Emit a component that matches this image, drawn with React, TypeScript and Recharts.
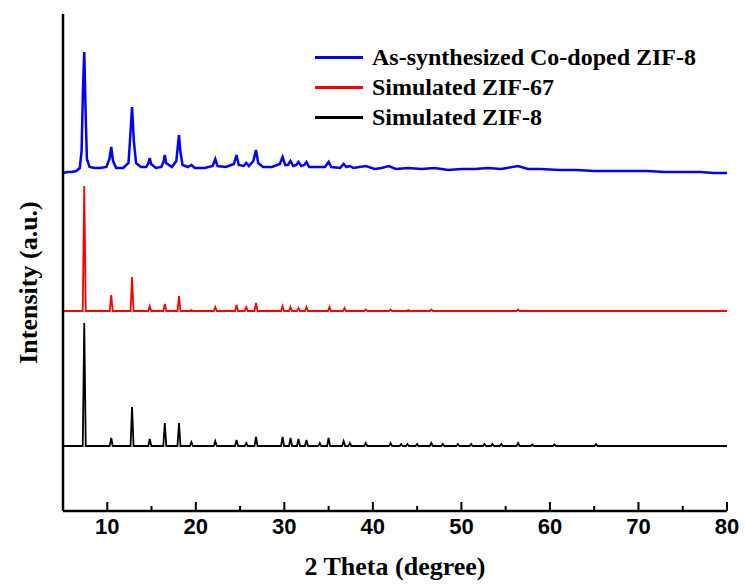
import { LineChart, Line, XAxis, YAxis, Legend } from 'recharts'

// 2-theta positions and peak heights (px above each baseline)
const BLACK_PEAKS: [number, number][] = [
  [7.4, 123], [10.45, 8], [12.8, 39], [14.8, 7], [16.5, 23], [18.1, 23], [19.5, 4],
  [22.2, 5], [24.6, 6], [25.7, 3], [26.8, 9], [29.8, 9], [30.7, 8], [31.6, 7],
  [32.5, 6], [34.0, 3], [35.0, 8], [36.7, 5], [37.4, 3], [39.2, 3], [42.0, 3],
  [43.2, 2], [43.9, 2], [45.0, 2], [46.6, 3], [47.9, 2], [49.6, 2], [51.1, 2],
  [52.6, 2], [53.5, 2], [54.5, 2], [56.4, 3], [58.0, 1.5], [60.5, 1.5], [65.2, 2],
]

const RED_PEAKS: [number, number][] = [
  [7.4, 125], [10.45, 16], [12.8, 34], [14.8, 5], [16.5, 7], [18.1, 15], [19.5, 1],
  [22.2, 4], [24.6, 6], [25.7, 4], [26.8, 8], [29.8, 5], [30.7, 4], [31.6, 3],
  [32.5, 4], [35.1, 4], [36.8, 3], [39.2, 1.5], [42.0, 1.5], [44.0, 1], [46.6, 1.5],
  [56.4, 1.5],
]

// measured pattern, noisy background included
const BLUE_POINTS: [number, number][] = [
  [5, 338], [5.5, 339], [6, 339], [6.5, 340], [6.9, 343], [7.1, 360], [7.25, 420],
  [7.4, 459], [7.55, 400], [7.7, 352], [8.0, 344], [8.6, 343], [9.2, 343], [9.9, 344],
  [10.25, 352], [10.45, 364], [10.65, 350], [11.0, 343], [11.8, 343], [12.4, 348],
  [12.6, 375], [12.8, 404], [13.0, 370], [13.25, 348], [13.8, 344], [14.4, 344],
  [14.65, 348], [14.8, 353], [14.95, 347], [15.5, 343], [16.1, 344], [16.35, 349],
  [16.5, 356], [16.65, 348], [17.3, 344], [17.8, 350], [17.95, 363], [18.1, 376],
  [18.25, 360], [18.5, 346], [19.1, 344], [19.5, 346], [19.9, 343], [21.0, 343],
  [21.9, 345], [22.2, 352], [22.45, 345], [23.4, 344], [24.3, 347], [24.6, 356],
  [24.85, 346], [25.4, 345], [25.7, 348], [26.0, 345], [26.5, 350], [26.8, 361],
  [27.05, 348], [27.6, 344], [28.6, 344], [29.5, 347], [29.8, 354], [30.1, 346],
  [30.4, 346], [30.7, 350], [31.0, 345], [31.35, 346], [31.6, 349], [31.9, 345],
  [32.25, 346], [32.5, 349], [32.8, 344], [33.5, 344], [34.6, 344], [35.0, 349],
  [35.3, 344], [36.3, 343], [36.7, 347], [37.0, 344], [37.4, 345], [37.8, 343],
  [39.2, 345], [40.2, 342], [41.0, 343], [41.8, 345], [42.6, 342], [44.0, 343],
  [45.5, 342], [47.0, 343], [48.5, 341], [50.0, 342], [51.5, 342], [53.0, 343],
  [54.5, 342], [56.4, 345], [57.5, 342], [59.0, 342], [61, 341], [63, 341], [65, 340],
  [67, 340], [69, 340], [71, 340], [73, 339], [75, 339], [77, 339], [78.5, 338], [80, 338],
]

const BLACK_BASE = 65
const RED_BASE = 200
const X_TICKS = [10, 15, 20, 25, 30, 35, 40, 45, 50, 55, 60, 65, 70, 75, 80]

const HALF_WIDTH = 0.17

function peaksToLine(peaks: [number, number][], base: number) {
  const pts = [{ x: 5, y: base }]
  peaks.forEach(([c, h]) => {
    pts.push({ x: c - HALF_WIDTH, y: base }, { x: c, y: base + h }, { x: c + HALF_WIDTH, y: base })
  })
  pts.push({ x: 80, y: base })
  return pts
}

const blackData = peaksToLine(BLACK_PEAKS, BLACK_BASE)
const redData = peaksToLine(RED_PEAKS, RED_BASE)
const blueData = BLUE_POINTS.map(([x, y]) => ({ x, y }))

const serif = "'Liberation Serif', 'Times New Roman', serif"
const narrow = "'Liberation Sans Narrow', 'Arial Narrow', 'Liberation Sans', Arial, sans-serif"

function XTick(props: any) {
  const { x, y, payload } = props
  const major = payload.value % 10 === 0
  return (
    <g>
      <line x1={x} x2={x} y1={y} y2={y - (major ? 9 : 5)} stroke="#000" strokeWidth={2} />
      {major && (
        <text x={x} y={y + 23} textAnchor="middle" fontFamily={narrow} fontWeight="bold" fontSize={22} fill="#000">
          {payload.value}
        </text>
      )}
    </g>
  )
}

function LegendBox(props: any) {
  const items = props.payload ?? []
  return (
    <div style={{ fontFamily: serif, fontWeight: 'bold', fontSize: 24, color: '#000' }}>
      {items.map((it: any) => (
        <div key={it.value} style={{ display: 'flex', alignItems: 'center', height: 30 }}>
          <div style={{ width: 48, height: 3, background: it.color, marginRight: 9 }} />
          <span>{it.value}</span>
        </div>
      ))}
    </div>
  )
}

export default function App() {
  return (
    <div style={{ position: 'absolute', left: 0, top: 0 }}>
      <LineChart width={745} height={586} margin={{ top: 14, right: 18, left: 0, bottom: 0 }}>
        <XAxis
          dataKey="x" type="number" domain={[5, 80]} ticks={X_TICKS} allowDataOverflow
          height={75} tickSize={0} tickMargin={0} tickLine={false} tick={<XTick />}
          axisLine={{ stroke: '#000', strokeWidth: 2.5 }}
          label={{
            content: ({ viewBox }: any) => (
              <text x={viewBox.x + viewBox.width / 2} y={viewBox.y + 64} textAnchor="middle"
                fontFamily={serif} fontWeight="bold" fontSize={26}>2 Theta (degree)</text>
            ),
          }}
        />
        <XAxis xAxisId="top" orientation="top" type="number" domain={[5, 80]} height={0}
          tick={false} tickLine={false} axisLine={{ stroke: '#000', strokeWidth: 2.5 }} />
        <YAxis type="number" domain={[0, 497]} width={63} tick={false} tickLine={false}
          axisLine={{ stroke: '#000', strokeWidth: 2.5 }}
          label={{
            content: ({ viewBox }: any) => {
              const cx = 28
              const cy = viewBox.y + viewBox.height / 2 + 20
              return (
                <text x={cx} y={cy} transform={`rotate(-90 ${cx} ${cy})`} textAnchor="middle"
                  dominantBaseline="central" fontFamily={serif} fontWeight="bold" fontSize={26}>
                  Intensity (a.u.)
                </text>
              )
            },
          }}
        />
        <YAxis yAxisId="right" orientation="right" type="number" domain={[0, 497]} width={0}
          tick={false} tickLine={false} axisLine={{ stroke: '#000', strokeWidth: 2.5 }} />
        <Legend
          layout="horizontal" verticalAlign="middle" align="center" content={<LegendBox />}
          wrapperStyle={{ top: 42, left: 315, width: 420 }}
        />
        <Line data={blueData} dataKey="y" name="As-synthesized Co-doped ZIF-8" stroke="#0000ff"
          strokeWidth={2.5} dot={false} type="linear" isAnimationActive={false} />
        <Line data={redData} dataKey="y" name="Simulated ZIF-67" stroke="#ff0000"
          strokeWidth={1.8} dot={false} type="linear" isAnimationActive={false} />
        <Line data={blackData} dataKey="y" name="Simulated ZIF-8" stroke="#000000"
          strokeWidth={1.8} dot={false} type="linear" isAnimationActive={false} />
      </LineChart>
    </div>
  )
}
